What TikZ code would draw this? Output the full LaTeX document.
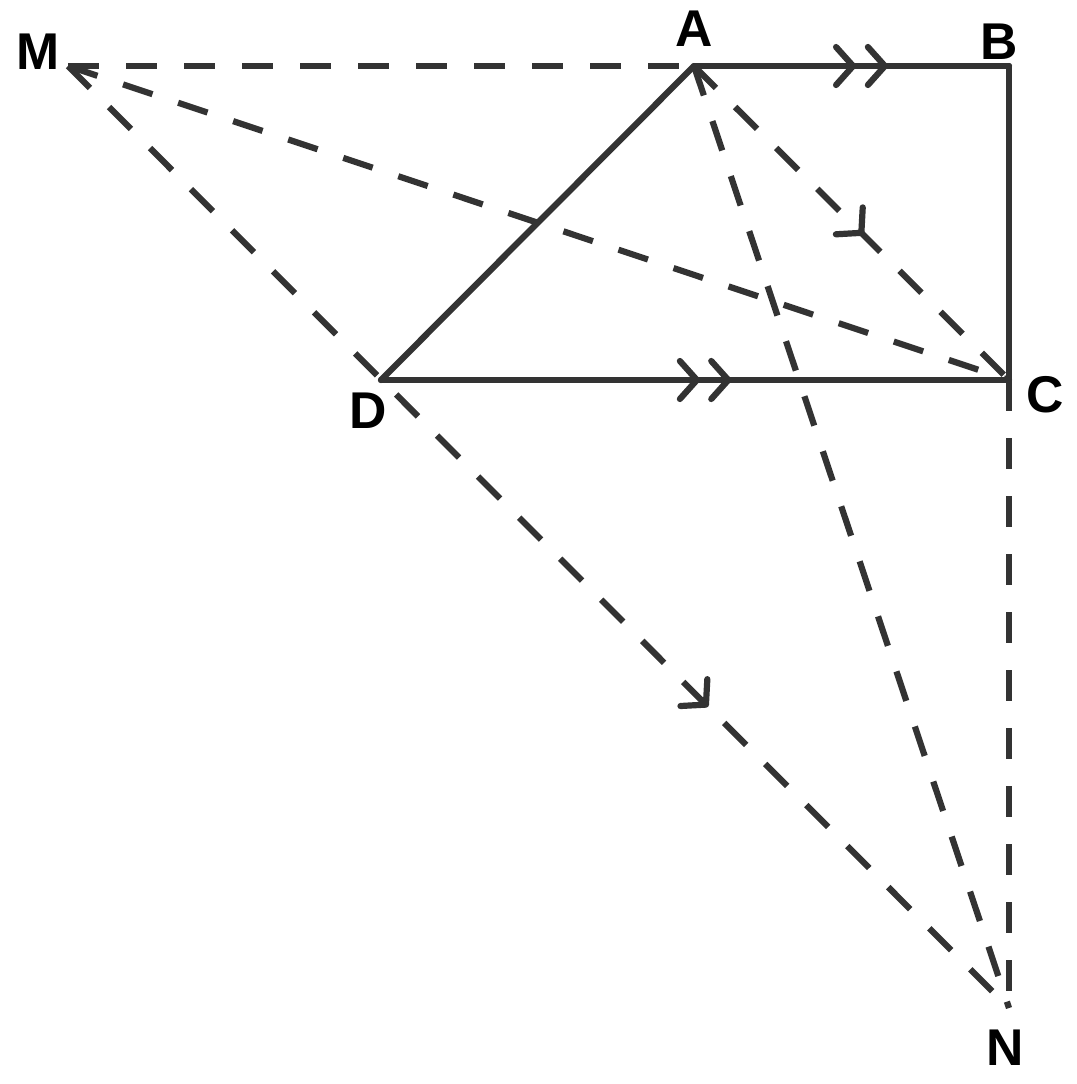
\documentclass[tikz,border=0pt]{standalone}
\usepackage{fontspec}
\setmainfont{Liberation Sans}
\usetikzlibrary{decorations.markings}
\definecolor{ln}{HTML}{333333}
\begin{document}
\begin{tikzpicture}[x=0.01cm,y=-0.01cm,
  seg/.style={draw=ln,line width=0.062cm,line cap=round,line join=round},
  dseg/.style={draw=ln,line width=0.062cm,dash pattern=on 0.31cm off 0.27cm},
  lbl/.style={font=\fontsize{14.7}{16}\selectfont\bfseries,inner sep=0pt},
  chev/.style={postaction={decorate,decoration={markings,
    mark=at position #1 with {\draw[draw=ln,solid,line width=0.062cm,line cap=round,line join=round] (-17,19) -- (0,0) -- (-17,-19);}}}}
]
\useasboundingbox (0,0) rectangle (1077,1084);
\coordinate (M) at (68,66);
\coordinate (A) at (694,66);
\coordinate (B) at (1009,66);
\coordinate (C) at (1009,380);
\coordinate (D) at (381,380);
\coordinate (N) at (1009,1008);
% dashed lines
\draw[dseg] (M) -- (A);
\draw[dseg] (M) -- (C);
\draw[dseg,chev=0.678] (M) -- (N);
\draw[dseg,chev=0.533] (A) -- (C);
\draw[dseg] (A) -- (N);
\draw[dseg] (C) -- (N);
% solid lines
\draw[seg,chev=0.505,chev=0.606] (A) -- (B);
\draw[seg] (B) -- (C);
\draw[seg,chev=0.503,chev=0.553] (D) -- (C);
\draw[seg] (A) -- (D);
% labels
\node[lbl] (lM) at (38,52) {M};
\node[lbl] (lA) at (694,29) {A};
\node[lbl] (lB) at (999,42) {B};
\node[lbl] (lC) at (1045,395) {C};
\node[lbl] (lD) at (368,411) {D};
\node[lbl] (lN) at (1005,1048) {N};
\end{tikzpicture}
\end{document}
